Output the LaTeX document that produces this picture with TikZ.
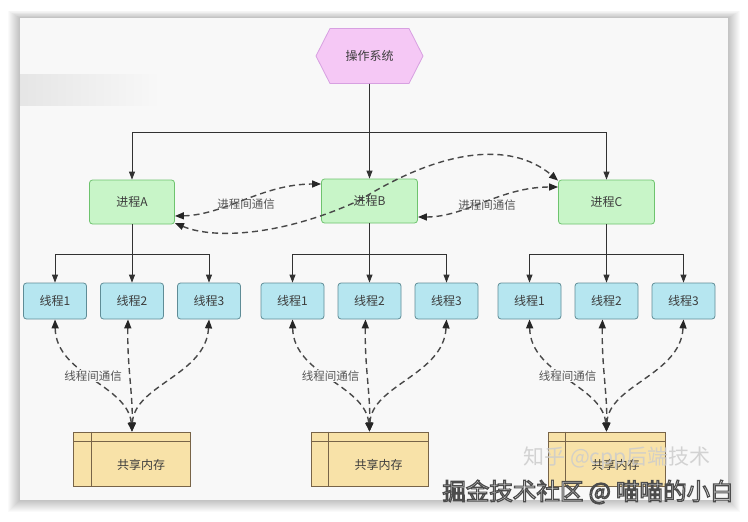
\documentclass[tikz,border=0pt]{standalone}
\usepackage{fontspec}
\setmainfont{Noto Sans CJK SC}
\usetikzlibrary{arrows.meta}
\font\wmoutline="Noto Sans CJK SC:embolden=5" at 23.5pt
\definecolor{cardC}{RGB}{248,248,248}
\definecolor{txt}{RGB}{60,60,60}
\definecolor{lblC}{RGB}{85,85,85}
\definecolor{lineC}{RGB}{50,50,50}
\definecolor{dashC}{RGB}{72,72,72}
\definecolor{tipC}{RGB}{38,38,38}
\definecolor{osF}{RGB}{245,200,245}
\definecolor{osB}{RGB}{215,160,225}
\definecolor{procF}{RGB}{200,245,200}
\definecolor{procB}{RGB}{110,195,110}
\definecolor{thrF}{RGB}{182,230,240}
\definecolor{thrB}{RGB}{95,140,150}
\definecolor{memF}{RGB}{248,226,168}
\definecolor{memB}{RGB}{120,100,72}
\begin{document}
\begin{tikzpicture}[x=1pt,y=-1pt,
  lbl/.style={font=\fontsize{12}{14}\selectfont, text=txt},
  proc/.style={draw=procB, fill=procF, rounded corners=3pt, minimum width=96pt, minimum height=44pt, line width=0.8pt, lbl},
  thr/.style={draw=thrB, fill=thrF, rounded corners=3pt, minimum width=63pt, minimum height=36pt, line width=0.8pt, lbl},
  mem/.style={draw=memB, fill=memF, minimum width=117pt, minimum height=54pt, line width=0.8pt, inner sep=0pt},
  tree/.style={draw=lineC, line width=0.8pt},
  arr/.style={tree, -{Triangle[length=8pt,width=6pt]}},
  comm/.style={draw=dashC, line width=1.4pt, dash pattern=on 6pt off 4pt, {Triangle[length=9pt,width=7pt,color=tipC]}-{Triangle[length=9pt,width=7pt,color=tipC]}},
  clbl/.style={font=\fontsize{11.5}{13}\selectfont, text=lblC, inner sep=1pt},
  clblf/.style={clbl, fill=cardC}
]
\useasboundingbox (0,0) rectangle (748,522);
\fill[white] (0,0) rectangle (748,522);
\foreach \i in {1,...,12} \fill[black,opacity=0.018] ({20-\i},{18-0.6*\i}) rectangle ({728+\i},{500+\i});
\fill[cardC] (20,18) rectangle (728,500);
\shade[left color=gray!20, right color=cardC] (20,74) rectangle (160,105);

% operating system
\draw[fill=osF, draw=osB, line width=0.8pt] (316,56)--(330,28.5)--(409,28.5)--(423,56)--(409,83.5)--(330,83.5)--cycle;
\node[lbl, minimum width=107pt, minimum height=55pt, inner sep=0pt] (os) at (369.5,56) {操作系统};

% processes
\node[proc, minimum width=85pt] (pA) at (132,202) {进程A};
\node[proc] (pB) at (369.5,201) {进程B};
\node[proc] (pC) at (606.5,202) {进程C};

\coordinate (bar) at (369.5,132);
\draw[tree] (os.south) -- (bar);
\draw[arr] (bar) -| (pA.north);
\draw[arr] (bar) -| (pC.north);
\draw[arr] (os.south) -- (pB.north);

% threads and memory per process
\foreach \g/\cx in {A/132,B/369.5,C/606.5} {
  \node[thr] (t\g1) at ({\cx-77},301) {线程1};
  \node[thr] (t\g2) at ({\cx},301) {线程2};
  \node[thr] (t\g3) at ({\cx+77},301) {线程3};
  \coordinate (j\g) at (\cx,254);
  \draw[arr] (p\g.south) -- (t\g2.north);
  \draw[arr] (j\g) -| (t\g1.north);
  \draw[arr] (j\g) -| (t\g3.north);
  \node[mem] (m\g) at (\cx,459) {};
  \draw[draw=memB, line width=0.8pt] ([xshift=18pt]m\g.north west) -- ([xshift=18pt]m\g.south west);
  \draw[draw=memB, line width=0.8pt] ([yshift=-10pt]m\g.north west) -- ([yshift=-10pt]m\g.north east);
  \node[lbl] (mt\g) at ({\cx+9},465) {共享内存};
  \draw[comm] (t\g1.south) .. controls ({\cx-76},375) and ({\cx-4},385) .. (m\g.north);
  \draw[comm] ([xshift=-4pt]t\g2.south) .. controls ({\cx-5},365) and ({\cx+1},395) .. (m\g.north);
  \draw[comm] (t\g3.south) .. controls ({\cx+74},375) and ({\cx+2},385) .. (m\g.north);
  \node[clblf] (cl\g) at ({\cx-39},376) {线程间通信};
}

% inter-process communication
\draw[comm] ([yshift=-14pt]pA.east) .. controls (225,215) and (262,184) .. ([yshift=17pt]pB.west);
\node[clbl] (ipc1) at (246,204) {进程间通信};
\draw[comm] ([yshift=-16pt]pB.east) .. controls (466,217) and (500,187) .. ([yshift=15pt]pC.west);
\node[clbl] (ipc2) at (487,205) {进程间通信};
\draw[comm] ([yshift=-21pt]pA.east) .. controls (215,240) and (285,235) .. (360,200)
  .. controls (440,150) and (510,140) .. ([yshift=-1pt]pC.north west);

% watermarks
\node[text=gray!40, opacity=0.85, font=\fontsize{21}{24}\selectfont] (wm1) at (617,458) {知乎 @cpp后端技术};
\node[text=white, inner sep=0pt] (wm2) at (588,492) {\special{pdf:literal direct 0.3 G}\wmoutline 掘金技术社区 @ 喵喵的小白};
\end{tikzpicture}
\end{document}
